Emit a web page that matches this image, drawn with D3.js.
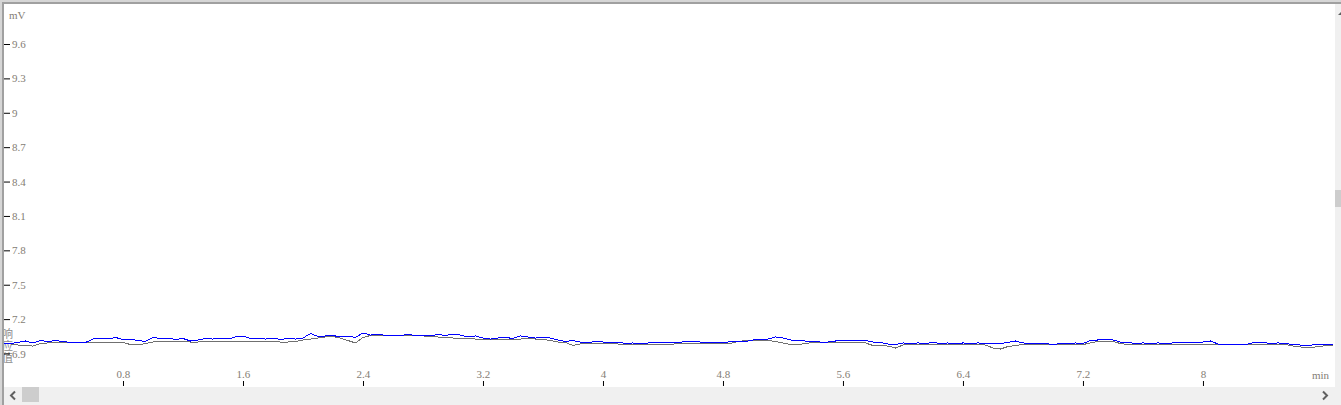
<!DOCTYPE html>
<html><head><meta charset="utf-8">
<script src="https://cdn.jsdelivr.net/npm/d3@7"></script>
<style>html,body{margin:0;padding:0;background:#fff;overflow:hidden}</style>
</head><body><svg id="c" width="1341" height="405"></svg>
<script>
const times = [
0,0.05,0.1,0.15,0.2,0.25,0.3,0.35,0.4,0.45,0.5,0.55,0.6,0.65,0.7,0.75,0.8,0.85,0.9,0.95,
1,1.05,1.1,1.15,1.2,1.25,1.3,1.35,1.4,1.45,1.5,1.55,1.6,1.65,1.7,1.75,1.8,1.85,1.9,1.95,
2,2.05,2.1,2.15,2.2,2.25,2.3,2.35,2.4,2.45,2.5,2.55,2.6,2.65,2.7,2.75,2.8,2.85,2.9,2.95,
3,3.05,3.1,3.15,3.2,3.25,3.3,3.35,3.4,3.45,3.5,3.55,3.6,3.65,3.7,3.75,3.8,3.85,3.9,3.95,
4,4.05,4.1,4.15,4.2,4.25,4.3,4.35,4.4,4.45,4.5,4.55,4.6,4.65,4.7,4.75,4.8,4.85,4.9,4.95,
5,5.05,5.1,5.15,5.2,5.25,5.3,5.35,5.4,5.45,5.5,5.55,5.6,5.65,5.7,5.75,5.8,5.85,5.9,5.95,
6,6.05,6.1,6.15,6.2,6.25,6.3,6.35,6.4,6.45,6.5,6.55,6.6,6.65,6.7,6.75,6.8,6.85,6.9,6.95,
7,7.05,7.1,7.15,7.2,7.25,7.3,7.35,7.4,7.45,7.5,7.55,7.6,7.65,7.7,7.75,7.8,7.85,7.9,7.95,
8,8.05,8.1,8.15,8.2,8.25,8.3,8.35,8.4,8.45,8.5,8.55,8.6,8.65,8.7,8.75,8.8,8.85,8.87
];
const signal = [
6.987,6.987,6.996,7.009,6.992,7.013,7.005,7.013,7.005,6.996,7.000,6.996,7.026,7.035,7.026,7.040,7.022,7.026,7.013,7.005,
7.040,7.031,7.035,7.022,7.031,7.009,7.018,7.031,7.026,7.035,7.026,7.044,7.053,7.031,7.035,7.026,7.035,7.022,7.031,7.026,
7.035,7.074,7.048,7.053,7.057,7.044,7.053,7.040,7.079,7.061,7.070,7.057,7.061,7.057,7.066,7.057,7.061,7.053,7.066,7.057,
7.070,7.061,7.044,7.053,7.035,7.026,7.035,7.040,7.031,7.053,7.044,7.035,7.044,7.035,7.018,7.005,7.013,7.000,6.996,7.005,
7.000,6.996,7.000,6.987,6.992,6.983,6.992,6.996,6.992,6.996,6.992,7.009,7.005,7.000,6.992,6.996,6.992,7.005,7.009,7.005,
7.018,7.022,7.026,7.044,7.035,7.018,7.013,7.009,7.005,7.000,7.000,7.009,7.013,7.009,7.018,7.013,7.000,6.996,6.983,6.978,
6.992,6.987,6.992,6.987,6.996,6.987,6.992,6.983,6.992,6.987,6.992,6.987,6.983,6.987,6.996,7.009,6.992,6.987,6.983,6.987,
6.978,6.987,6.983,6.992,6.987,7.013,7.018,7.026,7.018,7.000,6.996,6.987,6.992,6.987,6.992,6.987,6.992,6.996,7.000,6.996,
7.000,7.009,6.983,6.978,6.978,6.978,6.983,7.000,6.996,6.987,6.992,6.987,6.978,6.974,6.970,6.978,6.978,6.978,6.978
];
const baseline = [
6.983,6.983,6.974,6.970,6.965,6.987,6.992,6.992,6.992,6.992,6.996,6.996,7.000,7.000,7.000,7.000,6.996,6.978,6.974,6.987,
7.000,7.005,7.005,7.005,7.005,7.000,7.000,7.005,7.009,7.009,7.005,7.009,7.009,7.005,7.005,7.005,7.005,7.000,7.000,7.005,
7.018,7.026,7.035,7.044,7.048,7.035,7.013,6.992,7.040,7.057,7.053,7.053,7.053,7.053,7.053,7.053,7.053,7.048,7.044,7.040,
7.035,7.035,7.031,7.026,7.022,7.022,7.022,7.026,7.026,7.026,7.031,7.026,7.022,7.013,7.000,6.996,6.970,6.983,6.983,6.983,
6.983,6.983,6.983,6.978,6.983,6.978,6.978,6.978,6.978,6.978,6.987,6.987,6.987,6.987,6.987,6.987,6.987,6.987,7.005,7.013,
7.013,7.013,7.013,7.005,6.992,6.978,6.978,6.987,6.996,7.000,7.000,7.000,7.000,7.000,7.000,6.992,6.970,6.970,6.965,6.948,
6.974,6.978,6.978,6.978,6.978,6.978,6.978,6.978,6.978,6.978,6.978,6.974,6.948,6.939,6.961,6.970,6.978,6.978,6.978,6.978,
6.978,6.978,6.978,6.978,6.978,6.992,7.005,7.009,7.005,6.987,6.978,6.978,6.978,6.978,6.978,6.978,6.978,6.978,6.978,6.978,
6.978,6.978,6.978,6.978,6.978,6.978,6.978,6.978,6.978,6.978,6.978,6.978,6.965,6.957,6.952,6.957,6.965,6.974,6.974
];
const yTicks = [6.9,7.2,7.5,7.8,8.1,8.4,8.7,9,9.3,9.6];
const xTicks = [0.8,1.6,2.4,3.2,4,4.8,5.6,6.4,7.2,8];
const yUnit = "mV";
const xUnit = "min";
const yTitle = "响应值";

const svg = d3.select("#c");
const labelColor = "#847d74";
const serif = "'Liberation Serif','DejaVu Serif',serif";

svg.append("rect").attr("x",0).attr("y",0).attr("width",1341).attr("height",405).attr("fill","#fff");

const x = d3.scaleLinear().domain([0, 8.867]).range([3, 1333]);
const y = d3.scaleLinear().domain([6.9, 9.6]).range([353.5, 44]);

svg.append("defs").append("clipPath").attr("id","plotclip")
  .append("rect").attr("x",3).attr("y",4).attr("width",1332).attr("height",383);

// y title (vertical text, clipped at the left edge)
svg.append("text").attr("x",7.5).attr("y",328)
  .style("writing-mode","vertical-rl")
  .attr("font-family","'Noto Sans CJK SC',sans-serif").attr("font-size",11)
  .attr("letter-spacing",1)
  .attr("fill","#8a8a8a").text(yTitle);

// lines
const line = d3.line().x((d,i)=>x(times[i])).y(d=>y(d));
const plot = svg.append("g").attr("clip-path","url(#plotclip)");
plot.append("path").datum(baseline).attr("d",line).attr("fill","none")
  .attr("stroke","#707070").attr("stroke-width",1).attr("shape-rendering","crispEdges");
plot.append("path").datum(signal).attr("d",line).attr("fill","none")
  .attr("stroke","#0000ff").attr("stroke-width",1).attr("shape-rendering","crispEdges");

// y axis
const ya = svg.append("g").attr("transform","translate(4,0)")
  .call(d3.axisRight(y).tickValues(yTicks).tickSize(6).tickPadding(2).tickFormat(d3.format("")));
ya.select(".domain").remove();
ya.selectAll("line").attr("stroke","#000");
ya.selectAll("text").attr("fill",labelColor).attr("font-family",serif).attr("font-size",11);

// x axis
const xa = svg.append("g").attr("transform","translate(0,381)")
  .call(d3.axisBottom(x).tickValues(xTicks).tickSize(5).tickFormat(d3.format("")));
xa.select(".domain").remove();
xa.selectAll("line").attr("stroke","#000");
xa.selectAll("text").attr("y",-11).attr("fill",labelColor).attr("font-family",serif).attr("font-size",11);

// units
svg.append("text").attr("x",9).attr("y",19).attr("fill",labelColor)
  .attr("font-family",serif).attr("font-size",11).text(yUnit);
svg.append("text").attr("x",1312).attr("y",379).attr("fill",labelColor)
  .attr("font-family",serif).attr("font-size",11).text(xUnit);

// frame borders
svg.append("rect").attr("x",0).attr("y",0).attr("width",1341).attr("height",2).attr("fill","#d6d6d6");
svg.append("rect").attr("x",0).attr("y",2).attr("width",1341).attr("height",2).attr("fill","#a0a0a0");
svg.append("rect").attr("x",0).attr("y",0).attr("width",2).attr("height",405).attr("fill","#d6d6d6");
svg.append("rect").attr("x",2).attr("y",2).attr("width",2).attr("height",403).attr("fill","#a0a0a0");

// vertical scrollbar (partially visible)
svg.append("rect").attr("x",1335).attr("y",4).attr("width",6).attr("height",383).attr("fill","#f0f0f0");
svg.append("rect").attr("x",1335).attr("y",190).attr("width",6).attr("height",17).attr("fill","#cdcdcd");
svg.append("path").attr("d","M1338,15 L1341,12 L1341,15 Z").attr("fill","#606060");

// horizontal scrollbar
svg.append("rect").attr("x",4).attr("y",387).attr("width",1337).attr("height",18).attr("fill","#f0f0f0");
svg.append("rect").attr("x",22).attr("y",387).attr("width",17).attr("height",15).attr("fill","#cdcdcd");
svg.append("path").attr("d","M15,391.5 L11,395.5 L15,399.5").attr("fill","none").attr("stroke","#606060").attr("stroke-width",2);
svg.append("path").attr("d","M1323,391.5 L1327,395.5 L1323,399.5").attr("fill","none").attr("stroke","#606060").attr("stroke-width",2);
</script></body></html>
